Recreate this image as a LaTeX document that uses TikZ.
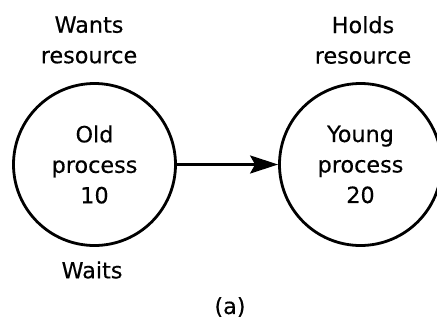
\documentclass[tikz,border=0pt]{standalone}
\usepackage{fontspec}
\setmainfont{DejaVu Sans}[BoldFont=DejaVu Sans, BoldFeatures={FakeBold=0.4}]
\usetikzlibrary{arrows.meta}
\begin{document}
\begin{tikzpicture}[x=1pt,y=-1pt,
  every node/.style={font=\fontsize{22.3}{30.5}\selectfont\bfseries, align=center, inner sep=0pt},
  proc/.style={circle, draw, line width=2.8pt, minimum size=162pt},
  lbl/.style={},
  link/.style={line width=2.8pt, -{Stealth[length=28pt,width=18pt,inset=5pt]}}]
  \useasboundingbox (0,0) rectangle (437,325);
  \clip (0,0) rectangle (437,325);
  % the two processes
  \node[proc] (old) at (94.5,164.5) {Old\\process\\10};
  \node[proc] (young) at (360.5,164.5) {Young\\process\\20};
  % labels around them
  \node[lbl] (wants) at (89,40) {Wants\\resource};
  \node[lbl] (holds) at (363,40) {Holds\\resource};
  \node[lbl] (waits) at (92,270) {Waits};
  \node[lbl] (cap) at (230,307) {(a)};
  % waits-for edge
  \draw[link] (old.east) -- (young.west);
\end{tikzpicture}
\end{document}
